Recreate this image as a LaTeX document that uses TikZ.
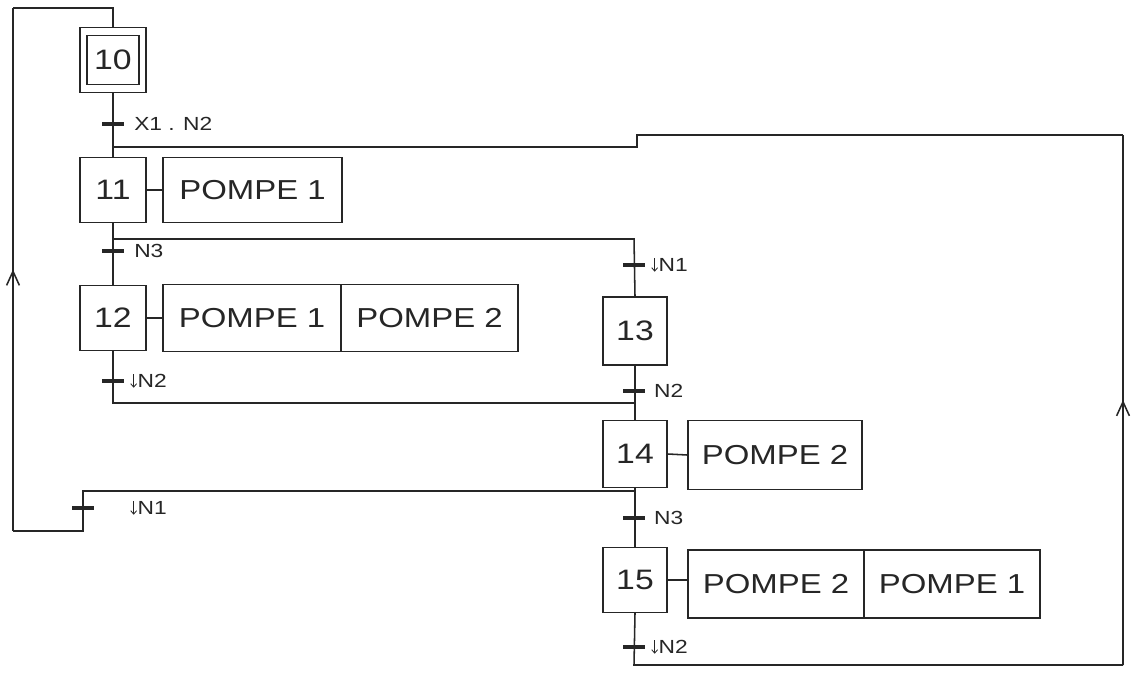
\documentclass[tikz,border=0pt]{standalone}
\usepackage{fontspec}
\setmainfont[FakeStretch=1.2]{Liberation Sans}
\usetikzlibrary{decorations.markings,arrows.meta}
\definecolor{ink}{gray}{0.15}
\newcommand{\dn}{\tikz[baseline=0pt]\draw[draw=ink, line width=0.6pt,-{Straight Barb[length=2.4pt,width=4.2pt]}] (0pt,9.6pt) -- (0pt,0pt);\hspace{0.5pt}}
\tikzset{
  ln/.style={draw=ink, line width=1.1pt},
  stepbox/.style={draw=ink, line width=1.1pt, minimum width=1.65cm, minimum height=1.62cm, inner sep=0pt, font=\fontsize{20}{24}\selectfont, text=ink},
  actbox/.style={draw=ink, line width=1.1pt, minimum height=1.62cm, inner sep=0pt, font=\fontsize{19.5}{23}\selectfont, text=ink},
  trbar/.style={fill=ink, minimum width=0.55cm, minimum height=0.09cm, inner sep=0pt, outer sep=0pt},
  trlab/.style={anchor=west, inner sep=0pt, font=\fontsize{13.5}{16}\selectfont, text=ink},
  midarrow/.style={postaction={decorate}, decoration={markings, mark=at position 0.5 with {\arrow[ink, line width=1.1pt]{Straight Barb[length=0.35cm,width=0.32cm]}}}}
}
\begin{document}
\begin{tikzpicture}[x=0.025cm,y=-0.025cm]
\useasboundingbox (0,0) rectangle (1137,675);

% steps
\node[stepbox] (s10) at (113,60) {};
\node[draw=ink, line width=1.1pt, minimum width=1.3cm, minimum height=1.225cm, inner sep=0pt, font=\fontsize{20}{24}\selectfont, text=ink] (s10i) at (113,60) {10};
\node[stepbox] (s11) at (113,190) {11};
\node[stepbox] (s12) at (113,318) {12};
\node[stepbox, minimum width=1.6cm, minimum height=1.7cm] (s13) at (635,331) {13};
\node[stepbox, minimum width=1.6cm, minimum height=1.68cm] (s14) at (635,454) {14};
\node[stepbox, minimum width=1.6cm] (s15) at (635,580) {15};

% actions
\node[actbox, minimum width=4.475cm] (a11) at (252.5,190) {POMPE 1};
\node[actbox, minimum width=4.45cm, minimum height=1.68cm] (a12a) at (252,318) {POMPE 1};
\node[actbox, minimum width=4.425cm, minimum height=1.68cm] (a12b) at (429.5,318) {POMPE 2};
\node[actbox, minimum width=4.35cm, minimum height=1.72cm] (a14) at (775,455) {POMPE 2};
\node[actbox, minimum width=4.4cm, minimum height=1.7cm] (a15a) at (776,584) {POMPE 2};
\node[actbox, minimum width=4.4cm, minimum height=1.7cm] (a15b) at (952,584) {POMPE 1};

\draw[ln] (s11.east) -- (a11.west);
\draw[ln] (s12.east) -- (a12a.west);
\draw[ln] (s14.east) -- (a14.west);
\draw[ln] (s15.east) -- (a15a.west |- s15.east);

% coordinates of the links
\coordinate (j1) at (113,147);
\coordinate (k1) at (637,147);
\coordinate (k2) at (637,135);
\coordinate (k3) at (1123,135);
\coordinate (k4) at (1123,665);
\coordinate (k5) at (634,665);
\coordinate (j2) at (113,239);
\coordinate (j2r) at (634,239);
\coordinate (j3l) at (113,403);
\coordinate (j3) at (634,403);
\coordinate (j4) at (634,491);
\coordinate (j4l) at (83,491);
\coordinate (c1) at (83,531);
\coordinate (c2) at (13,531);
\coordinate (c3) at (13,8);
\coordinate (c4) at (113,8);

% vertical links
\draw[ln] (s10.south) -- (s11.north);
\draw[ln] (s11.south) -- (s12.north);
\draw[ln] (s12.south) -- (j3l) -- (j3);
\draw[ln] (j2) -- (j2r) -- (s13.north);
\draw[ln] (s13.south) -- (s14.north);
\draw[ln] (s14.south) -- (s15.north);
\draw[ln] (s15.south) -- (k5) -- (k4);
\draw[ln, midarrow] (k4) -- (k3);
\draw[ln] (k3) -- (k2) -- (k1) -- (j1);
\draw[ln] (j4) -- (j4l) -- (c1) -- (c2);
\draw[ln, midarrow] (c2) -- (c3);
\draw[ln] (c3) -- (c4) -- (s10.north);

% transitions
\node[trbar] (t1) at (113,124) {};
\node[trbar] (t2) at (113,251) {};
\node[trbar] (t3) at (634,265) {};
\node[trbar] (t4) at (113,381) {};
\node[trbar] (t5) at (634,391) {};
\node[trbar] (t6) at (83,508) {};
\node[trbar] (t7) at (634,518) {};
\node[trbar] (t8) at (634,647) {};

\node[trlab] (l1) at ([xshift=0.25cm]t1.east) {X1 . N2};
\node[trlab] (l2) at ([xshift=0.25cm]t2.east) {N3};
\node[trlab] (l3) at ([xshift=0.15cm]t3.east) {\dn N1};
\node[trlab] (l4) at ([xshift=0.15cm]t4.east) {\dn N2};
\node[trlab] (l5) at ([xshift=0.22cm]t5.east) {N2};
\node[trlab] (l6) at ([xshift=0.9cm]t6.east) {\dn N1};
\node[trlab] (l7) at ([xshift=0.22cm]t7.east) {N3};
\node[trlab] (l8) at ([xshift=0.15cm]t8.east) {\dn N2};
\end{tikzpicture}
\end{document}
